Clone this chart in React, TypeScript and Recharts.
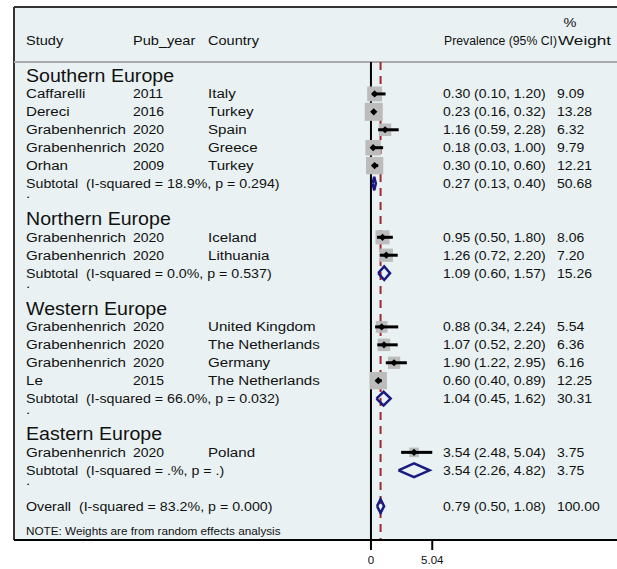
import React from 'react';
import { ComposedChart, Scatter, Line, XAxis, YAxis, ReferenceLine, CartesianGrid } from 'recharts';

// regions
const groupNames = ['Southern Europe', 'Northern Europe', 'Western Europe', 'Eastern Europe'];

// individual studies
const studyNames = ['Caffarelli', 'Dereci', 'Grabenhenrich', 'Grabenhenrich', 'Orhan', 'Grabenhenrich', 'Grabenhenrich', 'Grabenhenrich', 'Grabenhenrich', 'Grabenhenrich', 'Le', 'Grabenhenrich'];
const pubYears = [2011, 2016, 2020, 2020, 2009, 2020, 2020, 2020, 2020, 2020, 2015, 2020];
const countries = ['Italy', 'Turkey', 'Spain', 'Greece', 'Turkey', 'Iceland', 'Lithuania', 'United Kingdom', 'The Netherlands', 'Germany', 'The Netherlands', 'Poland'];
const studyGroup = [0, 0, 0, 0, 0, 1, 1, 2, 2, 2, 2, 3];
const prevalence = [0.30, 0.23, 1.16, 0.18, 0.30, 0.95, 1.26, 0.88, 1.07, 1.90, 0.60, 3.54];
const lowerCI = [0.10, 0.16, 0.59, 0.03, 0.10, 0.50, 0.72, 0.34, 0.52, 1.22, 0.40, 2.48];
const upperCI = [1.20, 0.32, 2.28, 1.00, 0.60, 1.80, 2.20, 2.24, 2.20, 2.95, 0.89, 5.04];
const weights = [9.09, 13.28, 6.32, 9.79, 12.21, 8.06, 7.20, 5.54, 6.36, 6.16, 12.25, 3.75];

// pooled estimates per region
const subtotalHet = ['I-squared = 18.9%, p = 0.294', 'I-squared = 0.0%, p = 0.537', 'I-squared = 66.0%, p = 0.032', 'I-squared = .%, p = .'];
const subtotalEst = [0.27, 1.09, 1.04, 3.54];
const subtotalLow = [0.13, 0.60, 0.45, 2.26];
const subtotalHigh = [0.40, 1.57, 1.62, 4.82];
const subtotalWeight = [50.68, 15.26, 30.31, 3.75];

// overall: estimate, lower, upper, weight
const overallHet = 'I-squared = 83.2%, p = 0.000';
const overallValues = [0.79, 0.50, 1.08, 100.0];

const xTicks = [0, 5.04];

const X_MIN = -29.35;
const X_MAX = 20.23;
const Y_MIN = -3.85;
const Y_MAX = 25.89;
const HEADER_SEP = -0.78;

const FONT = '"Liberation Sans", Arial, Helvetica, sans-serif';
const BG = '#e9f1f3';
const NAVY = '#1a1a80';
const MAROON = '#9e2a30';
const STRETCH = 1.12;

const fmt = (v: number) => v.toFixed(2);
const ciText = (e: number, l: number, h: number) => `${fmt(e)} (${fmt(l)}, ${fmt(h)})`;

// build row layout
type Row = { x: number; y: number; kind: string; cells: string[] };
const rows: Row[] = [];
rows.push({ x: X_MIN, y: -3, kind: 'pct', cells: ['%'] });
rows.push({ x: X_MIN, y: -2, kind: 'header', cells: ['Study', 'Pub_year', 'Country', 'Prevalence (95% CI)', 'Weight'] });

const studyPoints: { x: number; y: number; w: number }[] = [];
const ciLines: { x: number; y: number }[][] = [];
const diamonds: { x: number; y: number }[][] = [];
const DH = 0.38;
const diamond = (e: number, l: number, h: number, r: number) => [
  { x: l, y: r }, { x: e, y: r - DH }, { x: h, y: r }, { x: e, y: r + DH }, { x: l, y: r },
];

let r = 0;
groupNames.forEach((g, gi) => {
  rows.push({ x: X_MIN, y: r++, kind: 'group', cells: [g] });
  studyNames.forEach((s, i) => {
    if (studyGroup[i] !== gi) return;
    rows.push({
      x: X_MIN, y: r, kind: 'study',
      cells: [s, String(pubYears[i]), countries[i], ciText(prevalence[i], lowerCI[i], upperCI[i]), fmt(weights[i])],
    });
    studyPoints.push({ x: prevalence[i], y: r, w: weights[i] });
    ciLines.push([{ x: lowerCI[i], y: r }, { x: upperCI[i], y: r }]);
    r++;
  });
  rows.push({
    x: X_MIN, y: r, kind: 'subtotal',
    cells: [`Subtotal  (${subtotalHet[gi]})`, ciText(subtotalEst[gi], subtotalLow[gi], subtotalHigh[gi]), fmt(subtotalWeight[gi])],
  });
  diamonds.push(diamond(subtotalEst[gi], subtotalLow[gi], subtotalHigh[gi], r));
  r++;
  rows.push({ x: X_MIN, y: r++, kind: 'dot', cells: ['.'] });
});
rows.push({
  x: X_MIN, y: r, kind: 'subtotal',
  cells: [`Overall  (${overallHet})`, ciText(overallValues[0], overallValues[1], overallValues[2]), fmt(overallValues[3])],
});
diamonds.push(diamond(overallValues[0], overallValues[1], overallValues[2], r));
r++;
rows.push({ x: X_MIN, y: r, kind: 'note', cells: ['NOTE: Weights are from random effects analysis'] });

const T = ({ x, y, size, children, anchor, len }: any) => (
  <text
    transform={`translate(${x} ${y}) scale(${len ? 1 : STRETCH} 1)`}
    fontFamily={FONT}
    fontSize={size}
    fill="#111"
    textAnchor={anchor || 'start'}
    textLength={len}
    lengthAdjust={len ? 'spacingAndGlyphs' : undefined}
    style={{ whiteSpace: 'pre' }}
  >
    {children}
  </text>
);

const COL = { study: 26, year: 133, country: 208, ci: 443, weight: 557 };
const FS = 13.5; // names
const FN = 12.5; // numbers
const FM = 12.7; // subtotal lines

const RowText = (props: any) => {
  const { cy, payload } = props;
  const c: string[] = payload.cells;
  const b = cy + 4.5;
  switch (payload.kind) {
    case 'pct':
      return <T x={570} y={b} size={13} anchor="middle">{c[0]}</T>;
    case 'header':
      return (
        <g>
          <T x={COL.study} y={b} size={13}>{c[0]}</T>
          <T x={COL.year} y={b} size={13}>{c[1]}</T>
          <T x={COL.country} y={b} size={13}>{c[2]}</T>
          <T x={COL.ci + 1} y={b} size={12.5} len={113}>{c[3]}</T>
          <T x={COL.weight + 1} y={b} size={12.5} len={53}>{c[4]}</T>
        </g>
      );
    case 'group':
      return <T x={COL.study} y={cy + 6} size={17.5}>{c[0]}</T>;
    case 'study':
      return (
        <g>
          <T x={COL.study} y={b} size={FS}>{c[0]}</T>
          <T x={COL.year} y={b} size={FN}>{c[1]}</T>
          <T x={COL.country} y={b} size={FS}>{c[2]}</T>
          <T x={COL.ci} y={b} size={FN}>{c[3]}</T>
          <T x={COL.weight} y={b} size={FN}>{c[4]}</T>
        </g>
      );
    case 'subtotal':
      return (
        <g>
          <T x={COL.study} y={b} size={FM}>{c[0]}</T>
          <T x={COL.ci} y={b} size={FN}>{c[1]}</T>
          <T x={COL.weight} y={b} size={FN}>{c[2]}</T>
        </g>
      );
    case 'dot':
      return <T x={COL.study} y={cy - 3} size={FS}>{c[0]}</T>;
    case 'note':
      return <T x={COL.study} y={cy + 11} size={10.5}>{c[0]}</T>;
    default:
      return <g />;
  }
};

const WeightBox = (props: any) => {
  const { cx, cy, payload } = props;
  const s = 4.95 * Math.sqrt(payload.w);
  return <rect x={cx - s / 2} y={cy - s / 2} width={s} height={s} fill="#bcbcbc" />;
};

const PointMark = (props: any) => {
  const { cx, cy } = props;
  const d = 3.6;
  return <path d={`M${cx - d},${cy}L${cx},${cy - d}L${cx + d},${cy}L${cx},${cy + d}Z`} fill="#000" />;
};

export default function App() {
  return (
    <div style={{ position: 'absolute', left: 0, top: 0, width: 617, height: 569, background: '#fff' }}>
      <ComposedChart width={617} height={569} margin={{ top: 7, right: 0, bottom: 0, left: 14 }}>
        <CartesianGrid fill={BG} horizontal={false} vertical={false} />
        <XAxis
          type="number"
          dataKey="x"
          domain={[X_MIN, X_MAX]}
          allowDataOverflow
          ticks={xTicks}
          tickFormatter={(v: number) => (v === 0 ? '0' : v.toFixed(2))}
          height={29}
          tickSize={10}
          tickMargin={6}
          axisLine={{ stroke: '#000', strokeWidth: 2 }}
          tickLine={{ stroke: '#000', strokeWidth: 2 }}
          tick={{ fontSize: 11.5, fill: '#111', fontFamily: FONT }}
        />
        <YAxis type="number" dataKey="y" domain={[Y_MIN, Y_MAX]} allowDataOverflow reversed hide />
        <ReferenceLine y={Y_MIN} stroke="#333" strokeWidth={2} zIndex={100} />
        <ReferenceLine x={X_MIN} stroke="#333" strokeWidth={2} zIndex={100} />
        <ReferenceLine y={HEADER_SEP} stroke="#aaaaaa" strokeWidth={2} zIndex={100} />
        <ReferenceLine
          segment={[{ x: 0, y: HEADER_SEP }, { x: 0, y: Y_MAX }]}
          stroke="#000"
          strokeWidth={2}
          zIndex={100}
        />
        <ReferenceLine
          segment={[{ x: overallValues[0], y: HEADER_SEP }, { x: overallValues[0], y: Y_MAX }]}
          stroke={MAROON}
          strokeWidth={2}
          strokeDasharray="8 6"
          zIndex={100}
        />
        <Scatter data={rows} shape={RowText} isAnimationActive={false} />
        {/* weight boxes sit above the reference lines and below the CI lines */}
        <Scatter data={studyPoints} shape={WeightBox} isAnimationActive={false} zIndex={350} />
        {ciLines.map((d, i) => (
          <Line
            key={`ci${i}`}
            data={d}
            dataKey="y"
            type="linear"
            stroke="#000"
            strokeWidth={3}
            dot={false}
            activeDot={false}
            isAnimationActive={false}
          />
        ))}
        {diamonds.map((d, i) => (
          <Line
            key={`dm${i}`}
            data={d}
            dataKey="y"
            type="linear"
            stroke={NAVY}
            strokeWidth={2.5}
            dot={false}
            activeDot={false}
            isAnimationActive={false}
          />
        ))}
        <Scatter data={studyPoints} shape={PointMark} isAnimationActive={false} zIndex={700} />
      </ComposedChart>
    </div>
  );
}
